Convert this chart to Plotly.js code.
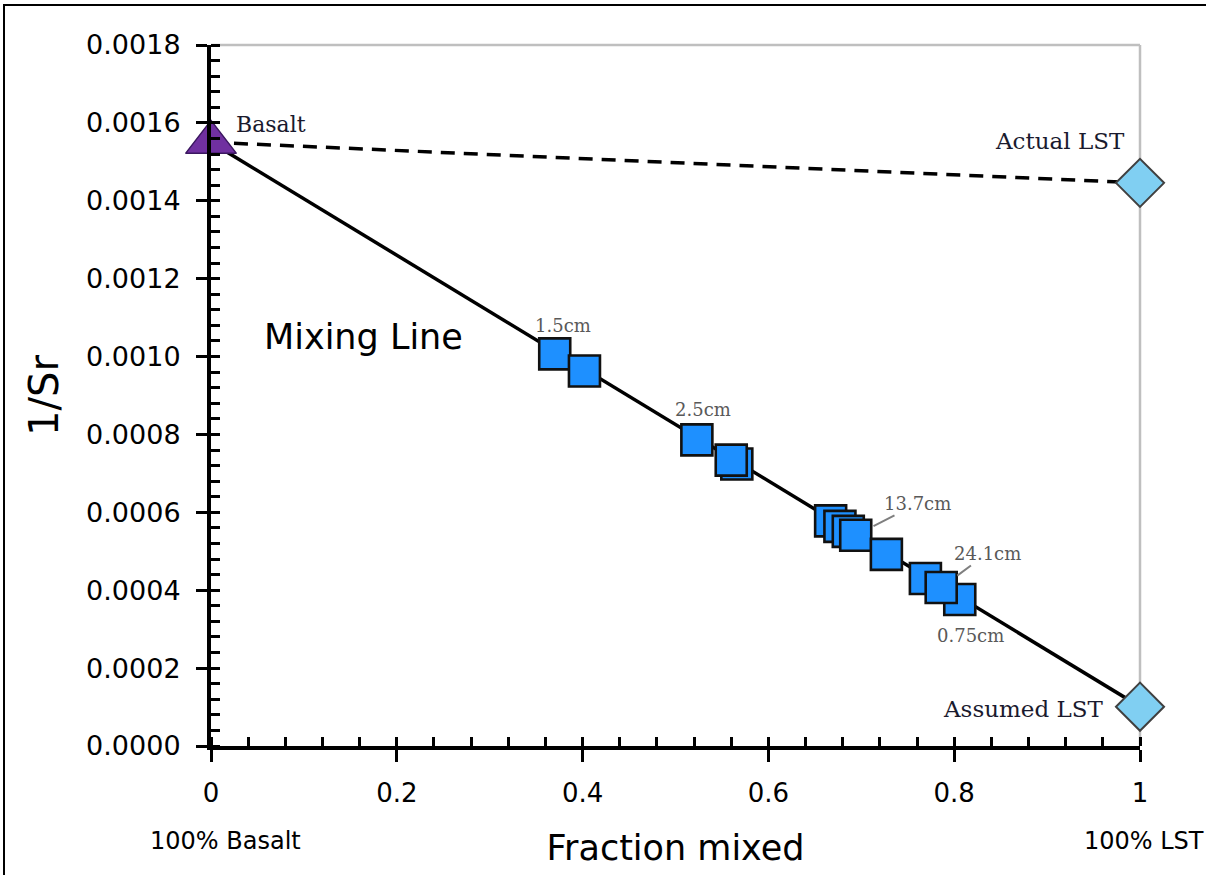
<!DOCTYPE html>
<html>
<head>
<meta charset="utf-8">
<script src="https://cdn.plot.ly/plotly-3.0.1.min.js"></script>
<style>
  html, body { margin: 0; padding: 0; background: #fff; overflow: hidden; }
  #frame { position: absolute; left: 3px; top: 4px; width: 1300px; height: 1000px;
           border-left: 2px solid #000; border-top: 2px solid #000; box-sizing: border-box; pointer-events: none; }
  #chart { position: absolute; left: 0; top: 0; width: 1206px; height: 875px; }
</style>
</head>
<body>
<div id="chart"></div>
<div id="frame"></div>
<script>
// ---- data ----
const basaltX = [0];
const basaltY = [0.00155];
const actualLstX = [1];
const actualLstY = [0.001446];
const assumedLstX = [1];
const assumedLstY = [0.000101];

const sampleX = [0.370, 0.402, 0.523, 0.566, 0.560, 0.667, 0.677, 0.686, 0.694, 0.727, 0.769, 0.806, 0.786];
const sampleY = [0.001007, 0.000963, 0.000786, 0.000724, 0.000734, 0.000578, 0.000564, 0.000551, 0.000541, 0.000492, 0.000430, 0.000376, 0.000407];
const sampleLabels = ['1.5cm', '', '2.5cm', '', '', '', '', '', '13.7cm', '', '', '0.75cm', '24.1cm'];

const endLabels = ['100% Basalt', '100% LST'];
const endLabelX = [0, 1];

// ---- styling ----
const sans = 'DejaVu Sans, sans-serif';
const serif = 'DejaVu Serif, serif';

// label placement (pixel offsets) per labelled sample
const labelStyle = {
  '1.5cm':  {ax: 8,  ay: -28, arrow: false},
  '2.5cm':  {ax: 6,  ay: -30, arrow: false},
  '13.7cm': {ax: 62, ay: -32, arrow: true},
  '24.1cm': {ax: 46, ay: -34, arrow: true},
  '0.75cm': {ax: 11, ay: 36,  arrow: false}
};

const traces = [
  { // dashed line to actual LST
    x: [basaltX[0], actualLstX[0]], y: [basaltY[0], actualLstY[0]],
    mode: 'lines', line: {color: '#000', width: 3.5, dash: '14px,9px'},
    hoverinfo: 'skip', cliponaxis: false
  },
  { // mixing line to assumed LST
    x: [basaltX[0], assumedLstX[0]], y: [basaltY[0], assumedLstY[0]],
    mode: 'lines', line: {color: '#000', width: 3.5},
    hoverinfo: 'skip', cliponaxis: false
  },
  {
    x: sampleX, y: sampleY, mode: 'markers', cliponaxis: false,
    marker: {symbol: 'square', size: 31, color: '#1E90FF', line: {color: '#111', width: 2.6}}
  },
  {
    x: actualLstX.concat(assumedLstX), y: actualLstY.concat(assumedLstY), mode: 'markers', cliponaxis: false,
    marker: {symbol: 'diamond', size: 37, color: '#80CFF2', line: {color: '#404040', width: 2}}
  },
  {
    x: basaltX, y: basaltY, mode: 'markers', cliponaxis: false,
    marker: {symbol: 'triangle-up', size: 44, color: '#7030A0', line: {color: '#3b1760', width: 1.5}}
  }
];

const annotations = [];
sampleLabels.forEach((t, i) => {
  if (!t) return;
  const s = labelStyle[t];
  if (s.arrow) {
    annotations.push({x: sampleX[i], y: sampleY[i], xref: 'x', yref: 'y', text: t,
      showarrow: true, arrowhead: 0, arrowwidth: 2, arrowcolor: '#7f7f7f', standoff: 20,
      ax: s.ax, ay: s.ay, font: {family: serif, size: 18, color: '#595959'}});
  } else {
    annotations.push({x: sampleX[i], y: sampleY[i], xref: 'x', yref: 'y', text: t,
      showarrow: false, xshift: s.ax, yshift: -s.ay,
      font: {family: serif, size: 18, color: '#595959'}});
  }
});
annotations.push({x: basaltX[0], y: basaltY[0], xref: 'x', yref: 'y', text: 'Basalt',
  showarrow: false, xshift: 60, yshift: 18, font: {family: serif, size: 22, color: '#1a1a2e'}});
annotations.push({x: actualLstX[0], y: actualLstY[0], xref: 'x', yref: 'y', text: 'Actual LST',
  showarrow: false, xshift: -80, yshift: 42, font: {family: serif, size: 23, color: '#1a1a2e'}});
annotations.push({x: assumedLstX[0], y: assumedLstY[0], xref: 'x', yref: 'y', text: 'Assumed LST',
  showarrow: false, xshift: -117, yshift: -2, font: {family: serif, size: 23, color: '#1a1a2e'}});
annotations.push({x: 0.164, y: 0.00105, xref: 'x', yref: 'y', text: 'Mixing Line',
  showarrow: false, font: {family: sans, size: 35, color: '#000'}});
endLabels.forEach((t, i) => {
  annotations.push({x: endLabelX[i], y: 0, xref: 'x', yref: 'paper', text: t, showarrow: false,
    yanchor: 'middle', yshift: -95, xshift: i === 0 ? 14 : 4,
    font: {family: sans, size: 24, color: '#000'}});
});

const layout = {
  width: 1206, height: 875,
  margin: {l: 211, r: 66, t: 45, b: 129},
  paper_bgcolor: '#fff', plot_bgcolor: '#fff',
  showlegend: false,
  xaxis: {
    range: [0, 1], dtick: 0.2, tick0: 0,
    showgrid: false, zeroline: false,
    showline: true, linecolor: '#000', linewidth: 4,
    ticks: 'outside', ticklen: 12, tickwidth: 3, tickcolor: '#000', ticklabelstandoff: 9,
    minor: {dtick: 0.04, ticks: 'inside', ticklen: 9, tickwidth: 3, tickcolor: '#000', showgrid: false},
    tickfont: {family: sans, size: 26, color: '#000'},
    title: {text: 'Fraction mixed', font: {family: sans, size: 35, color: '#000'}, standoff: 29}
  },
  xaxis2: {
    matches: 'x', overlaying: 'x', anchor: 'y', side: 'bottom',
    showgrid: false, zeroline: false, showline: false, showticklabels: false,
    ticks: 'inside', ticklen: 12, tickwidth: 3, tickcolor: '#000', dtick: 0.2, tick0: 0
  },
  yaxis: {
    range: [0, 0.0018], dtick: 0.0002, tick0: 0, tickformat: '.4f',
    showgrid: false, zeroline: false,
    showline: true, linecolor: '#000', linewidth: 4,
    ticks: 'outside', ticklen: 11, tickwidth: 3, tickcolor: '#000', ticklabelstandoff: 10,
    minor: {dtick: 0.00004, ticks: 'inside', ticklen: 9, tickwidth: 3, tickcolor: '#000', showgrid: false},
    tickfont: {family: sans, size: 27, color: '#000'},
    title: {text: '1/Sr', font: {family: sans, size: 40, color: '#000'}, standoff: 16}
  },
  yaxis2: {
    matches: 'y', overlaying: 'y', anchor: 'x', side: 'left',
    showgrid: false, zeroline: false, showline: false, showticklabels: false,
    ticks: 'inside', ticklen: 11, tickwidth: 3, tickcolor: '#000', dtick: 0.0002, tick0: 0
  },
  shapes: [
    {type: 'line', xref: 'paper', yref: 'paper', x0: 0, x1: 1, y0: 1, y1: 1, layer: 'below',
     line: {color: '#BFBFBF', width: 2.5}},
    {type: 'line', xref: 'paper', yref: 'paper', x0: 1, x1: 1, y0: 0, y1: 1, layer: 'below',
     line: {color: '#BFBFBF', width: 2.5}}
  ],
  annotations: annotations
};

Plotly.newPlot('chart', traces, layout, {displayModeBar: false, staticPlot: true});
</script>
</body>
</html>
